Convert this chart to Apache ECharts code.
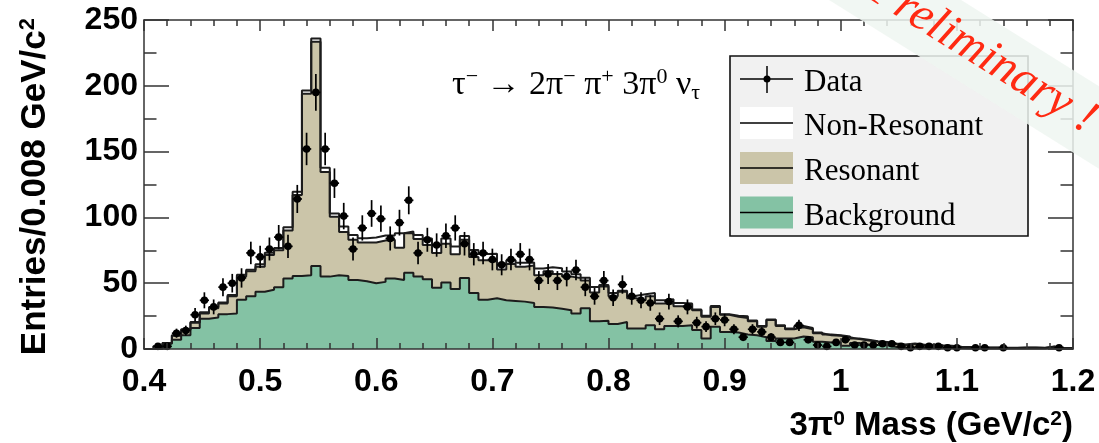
<!DOCTYPE html>
<html>
<head>
<meta charset="utf-8">
<title>3pi0 mass</title>
<script src="https://cdn.jsdelivr.net/npm/echarts@6/dist/echarts.min.js"></script>
<style>
  html, body { margin: 0; padding: 0; background: #fff; }
  #chart { width: 1099px; height: 443px; }
</style>
</head>
<body>
<div id="chart"></div>
<script>
// binning: 100 bins of 0.008 GeV from 0.4 to 1.2
var xMin = 0.4
var xMax = 1.2
var binWidth = 0.008

// histogram contents per bin (entries)
var background = [
  0, 0, 4, 7, 10.5, 16, 23, 24, 26.5, 27,
  37.5, 40, 43.5, 45, 47, 53.5, 55.5, 56, 63, 55,
  56, 55.5, 52.5, 51.5, 50, 51, 53.5, 52.5, 58, 55,
  53, 46.5, 50.5, 45.5, 54, 42.5, 37.5, 38.5, 37, 36.5,
  36, 35, 32, 31.5, 30.5, 29.5, 27, 31, 21, 21.5,
  19, 20.5, 15.5, 15.5, 18, 15, 17.5, 17.5, 18, 14.5,
  8, 17, 13, 12.5, 11, 10.5, 9, 6, 8, 8,
  9.5, 9, 5.5, 5, 5, 2.5, 4.5, 3.5, 3, 2.8,
  1.5, 1, 1.3, 1, 1, 1, 0.8, 0.5, 0.4, 0.4,
  0.3, 0.3, 0.3, 0.3, 0.3, 0.3, 0.3, 1.2, 0.3, 0.2
]
var resonant = [
  0, 1, 0.5, 3, 4, 4, 4, 7, 8, 13,
  17.5, 19, 19, 26.5, 28, 36.5, 61.5, 138, 170.5, 79.5,
  44.5, 33.5, 30.5, 29.5, 31, 31.5, 29.5, 24.5, 30, 28.5,
  26, 26.5, 29.5, 26.5, 29, 27.5, 30, 28, 23.5, 28,
  26.5, 28.5, 24, 27.5, 26.5, 25.5, 27, 21, 22, 26,
  21, 23, 23, 21.5, 22, 19.5, 17, 15, 16, 15,
  16.5, 15, 13, 12, 12.5, 10.5, 8, 16, 9.5, 7,
  7, 6, 6.5, 5.5, 5, 6.5, 3, 3, 2.5, 2.2,
  2.3, 2, 2.5, 2, 2, 1.5, 1.5, 1, 0.9, 0.9,
  0.7, 0.7, 0.5, 0.5, 0.7, 0.7, 0.5, 0.6, 0.5, 0.3
]
var nonResonant = [
  0, 1, 0, 0.5, 0.5, 0.5, 1, 1, 0.8, 1,
  1.5, 1.2, 1.9, 1.6, 1.8, 2.5, 2.5, 2.5, 2.5, 3.3,
  2.4, 4, 3.7, 3.2, 3.7, 3.7, 3.2, 11, 1.3, 3.2,
  5, 6, 4, 5.8, 2.9, 5.2, 4.6, 5.8, 4.5, 3,
  3, 2.3, 5.1, 3.2, 4.3, 3.8, 2.8, 2.2, 4.1, 1.2,
  2.5, 0.7, 2, 4.6, 2.5, 2.5, 3.3, 2.5, 0.5, 0.5,
  0.7, 0.7, 0.5, 0.7, 1.3, 0.7, 0.5, 0.5, 0.5, 0.5,
  1, 1, 0.6, 0.5, 0.4, 0.5, 0.4, 0.5, 0.4, 0.4,
  0.4, 0.4, 0.3, 0.3, 0.3, 0.3, 0.2, 0.2, 0.2, 0.2,
  0.2, 0.2, 0.2, 0.2, 0.2, 0.2, 0.2, 0.2, 0.2, 0.2
]
// data entries per bin (null = empty bin, no marker)
var dataCounts = [
  null, 2, 2, 12, 14, 26, 37, 32, 47, 50,
  54, 73, 70, 76, 85, 78, 114, 152, 195, 152,
  126, 101, 76, 92, 103, 99, 84, 96, 113, 73,
  83, 79, 86, 92, 80, 72, 73, 68, 64, 68,
  72, 68, 52, 57, 52, 55, 60, 47, 40, 52,
  39, 49, 40, 37, 35, 23, 36, 21, 32, 20,
  17, 23, 22, 15, 9, 15, 13, 9, 5, 5,
  18, 7, 3, 2, 5, 7, 3, 3, 3, 4,
  4, 2, 1, 2, 2, 2, 1, 1, null, 1,
  1, null, 1, null, null, null, null, null, 1, null
]

var colors = {
  nonResonant: '#ffffff',
  resonant: '#cbc5a9',
  background: '#84c2a4',
  line: '#1c1c1c',
  frame: '#333333',
  legendFill: '#f1f1f1'
}

// step points at the bin low edges, plus the closing edge at xMax
function stepPoints (vals) {
  var pts = vals.map(function (v, i) { return [xMin + binWidth * i, v] })
  pts.push([xMax, vals[vals.length - 1]])
  return pts
}

var resTop = background.map(function (v, i) { return v + resonant[i] })
var totTop = resTop.map(function (v, i) { return v + nonResonant[i] })

var dataPoints = []
dataCounts.forEach(function (n, i) {
  if (n === null) return
  // poisson error bar
  dataPoints.push([xMin + binWidth * (i + 0.5), n, Math.sqrt(n)])
})

function histSeries (name, vals, fill) {
  return {
    name: name,
    type: 'line',
    step: 'end',
    data: stepPoints(vals),
    showSymbol: false,
    symbol: 'none',
    silent: true,
    lineStyle: { color: colors.line, width: 2 },
    areaStyle: { color: fill, opacity: 1 },
    z: 2
  }
}

var axisLineStyle = { color: colors.frame, width: 1.5 }
var labelFont = { fontFamily: 'Liberation Sans', fontWeight: 'bold', fontSize: 32, color: '#000' }

function xAxisDef (pos) {
  return {
    type: 'value',
    position: pos,
    min: xMin,
    max: xMax,
    interval: 0.1,
    axisLine: { show: true, onZero: false, lineStyle: axisLineStyle },
    axisTick: { show: true, inside: true, length: 11, lineStyle: axisLineStyle },
    minorTick: { show: true, splitNumber: 5, length: 6, lineStyle: axisLineStyle },
    axisLabel: Object.assign({ show: pos === 'bottom', margin: 17 }, labelFont),
    splitLine: { show: false },
    minorSplitLine: { show: false },
    z: 5
  }
}

function yAxisDef (pos) {
  return {
    type: 'value',
    position: pos,
    min: 0,
    max: 250,
    interval: 50,
    axisLine: { show: true, onZero: false, lineStyle: axisLineStyle },
    axisTick: { show: true, inside: true, length: 25, lineStyle: axisLineStyle },
    minorTick: { show: true, splitNumber: 2, length: 12.5, lineStyle: axisLineStyle },
    axisLabel: Object.assign({ show: pos === 'left', margin: 6, padding: [9, 0, 0, 0] }, labelFont),
    splitLine: { show: false },
    minorSplitLine: { show: false },
    z: 5
  }
}

var serifFont = '"Liberation Serif", "DejaVu Serif", serif'

// legend rows: y centre of each row
var legendRows = [
  { label: 'Data', y: 79 },
  { label: 'Non-Resonant', y: 123, fill: colors.nonResonant },
  { label: 'Resonant', y: 168, fill: colors.resonant },
  { label: 'Background', y: 212.5, fill: colors.background }
]

var legendElements = [{
  type: 'rect',
  shape: { x: 730, y: 56, width: 298, height: 180 },
  style: { fill: colors.legendFill, stroke: '#111', lineWidth: 1.6 },
  z: 10
}]
legendRows.forEach(function (row) {
  if (row.fill) {
    legendElements.push({
      type: 'rect',
      shape: { x: 740, y: row.y - 16, width: 53, height: 32 },
      style: { fill: row.fill },
      z: 11
    })
  } else {
    legendElements.push({
      type: 'line',
      shape: { x1: 767, y1: row.y - 13, x2: 767, y2: row.y + 14 },
      style: { stroke: '#000', lineWidth: 1.5 },
      z: 12
    })
    legendElements.push({
      type: 'circle',
      shape: { cx: 767, cy: row.y, r: 3.5 },
      style: { fill: '#000' },
      z: 12
    })
  }
  legendElements.push({
    type: 'line',
    shape: { x1: 740, y1: row.y, x2: 793, y2: row.y },
    style: { stroke: '#000', lineWidth: 1.5 },
    z: 12
  })
  legendElements.push({
    type: 'text',
    x: 804,
    y: row.y + 4,
    style: {
      text: row.label,
      font: '31px ' + serifFont,
      fill: '#000',
      align: 'left',
      verticalAlign: 'middle'
    },
    z: 12
  })
})

var supSans = { font: 'bold 22px "Liberation Sans"', fill: '#000', verticalAlign: 'top', lineHeight: 36 }
var mainSans = { font: 'bold 35px "Liberation Sans"', fill: '#000', lineHeight: 36 }
var xSupSans = { font: 'bold 21px "Liberation Sans"', fill: '#000', verticalAlign: 'top', lineHeight: 34 }
var xMainSans = { font: 'bold 33px "Liberation Sans"', fill: '#000', lineHeight: 34 }

var titleElements = [
  {
    // y axis title
    type: 'text',
    x: 35,
    y: 18,
    rotation: Math.PI / 2,
    style: {
      text: '{a|Entries/0.008 GeV/c}{s|2}',
      rich: { a: mainSans, s: supSans },
      align: 'right',
      verticalAlign: 'middle'
    },
    z: 12
  },
  {
    // x axis title
    type: 'text',
    x: 1073,
    y: 426,
    style: {
      text: '{a|3π}{s|0}{a| Mass (GeV/c}{s|2}{a|)}',
      rich: { a: xMainSans, s: xSupSans },
      align: 'right',
      verticalAlign: 'middle'
    },
    z: 12
  },
  {
    // decay channel
    type: 'text',
    x: 452,
    y: 85,
    style: {
      text: '{a|τ}{s|−}{a| → 2π}{s|−}{a| π}{s|+}{a| 3π}{s|0}{a| ν}{u|τ}',
      rich: {
        a: { font: '34px ' + serifFont, fill: '#000', lineHeight: 38 },
        s: { font: '22px ' + serifFont, fill: '#000', verticalAlign: 'top', lineHeight: 38 },
        u: { font: '22px ' + serifFont, fill: '#000', verticalAlign: 'bottom', lineHeight: 38 }
      },
      align: 'left',
      verticalAlign: 'middle'
    },
    z: 12
  }
]

// diagonal "Preliminary" stamp over the top right corner
var stampAngle = -32 * Math.PI / 180
var stamp = {
  type: 'group',
  x: 918,
  y: 32,
  rotation: stampAngle,
  z: 30,
  children: [
    {
      type: 'rect',
      shape: { x: -400, y: -50, width: 800, height: 70 },
      style: { fill: '#eef6f1', opacity: 0.85 },
      z: 30
    },
    {
      type: 'text',
      x: -62,
      y: -15,
      style: {
        text: 'Preliminary !',
        font: 'italic 48px ' + serifFont,
        fill: '#ff2a12',
        align: 'left',
        verticalAlign: 'middle'
      },
      z: 31
    }
  ]
}

var chart = echarts.init(document.getElementById('chart'), null, { renderer: 'canvas' })
chart.setOption({
  animation: false,
  backgroundColor: '#ffffff',
  grid: {
    left: 144,
    right: 26,
    top: 20,
    bottom: 94,
    containLabel: false,
    outerBoundsMode: 'none'
  },
  xAxis: [xAxisDef('bottom'), xAxisDef('top')],
  yAxis: [yAxisDef('left'), yAxisDef('right')],
  series: [
    histSeries('Non-Resonant', totTop, colors.nonResonant),
    histSeries('Resonant', resTop, colors.resonant),
    histSeries('Background', background, colors.background),
    {
      name: 'Data',
      type: 'custom',
      data: dataPoints,
      encode: { x: 0, y: 1 },
      silent: true,
      z: 4,
      renderItem: function (params, api) {
        var x = api.value(0)
        var n = api.value(1)
        var e = api.value(2)
        var c = api.coord([x, n])
        var hi = api.coord([x, n + e])
        var lo = api.coord([x, Math.max(n - e, 0)])
        var l = api.coord([x - binWidth / 2, n])
        var r = api.coord([x + binWidth / 2, n])
        var ls = { stroke: '#000', lineWidth: 1.7 }
        return {
          type: 'group',
          children: [
            { type: 'line', shape: { x1: c[0], y1: hi[1], x2: c[0], y2: lo[1] }, style: ls },
            { type: 'line', shape: { x1: l[0], y1: c[1], x2: r[0], y2: c[1] }, style: ls },
            { type: 'circle', shape: { cx: c[0], cy: c[1], r: 3.8 }, style: { fill: '#000' } }
          ]
        }
      }
    }
  ],
  graphic: { elements: legendElements.concat(titleElements, [stamp]) }
})
</script>
</body>
</html>
